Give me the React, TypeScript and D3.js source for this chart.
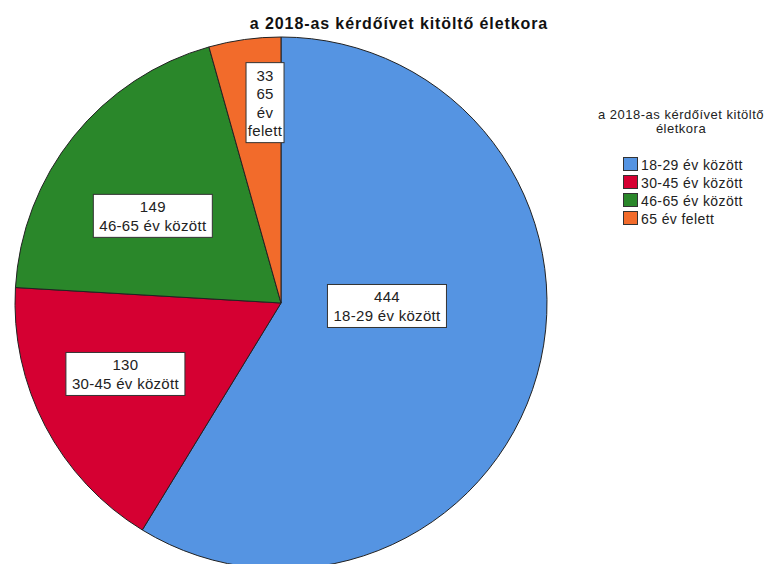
import React from "react";
import * as d3 from "d3";

const categories = ["18-29 év között", "30-45 év között", "46-65 év között", "65 év felett"];
const counts = [444, 130, 149, 33];
const colors = ["#5594e2", "#d50032", "#2a872a", "#f26b2b"];
const labelLines = [
  ["444", "18-29 év között"],
  ["130", "30-45 év között"],
  ["149", "46-65 év között"],
  ["33", "65", "év", "felett"],
];
const title = "a 2018-as kérdőívet kitöltő életkora";
const legendTitle = ["a 2018-as kérdőívet kitöltő", "életkora"];

const W = 771;
const H = 564;
const cx = 281;
const cy = 303;
const R = 266;
const font = "Arial, 'Liberation Sans', sans-serif";

export default function App() {
  const pie = d3.pie<number>().sort(null).value((d) => d);
  const arcs = pie(counts);
  const arc = d3.arc<d3.PieArcDatum<number>>().innerRadius(0).outerRadius(R);
  // label placement tuning (radius in px, angle shift in degrees from slice middle)
  const labelR = [106, 171, 155, 201];
  const labelShift = [-14.1, 3.1, -4.6, 3.3];
  const boxW = [119, 119, 119, 38];
  const lineH = 18.5;

  return (
    <svg width={W} height={H} style={{ position: "absolute", left: 0, top: 0, background: "#fff" }}>
      <text x={399} y={29} textAnchor="middle" fontFamily={font} fontWeight="bold" fontSize={16} letterSpacing={0.9} fill="#111">
        {title}
      </text>
      <g transform={`translate(${cx},${cy})`}>
        {arcs.map((a, i) => (
          <path key={i} d={arc(a) || ""} fill={colors[i]} stroke="#222" strokeWidth={1} />
        ))}
        {arcs.map((a, i) => {
          const mid = (a.startAngle + a.endAngle) / 2 + (labelShift[i] * Math.PI) / 180;
          const x = Math.sin(mid) * labelR[i];
          const y = -Math.cos(mid) * labelR[i];
          const lines = labelLines[i];
          const bw = boxW[i];
          const bh = lines.length * lineH + 6;
          return (
            <g key={"l" + i} transform={`translate(${x},${y})`}>
              <rect x={-bw / 2} y={-bh / 2} width={bw} height={bh} fill="#fff" stroke="#333" strokeWidth={1} />
              {lines.map((l, j) => (
                <text
                  key={j}
                  x={0}
                  y={-bh / 2 + 3 + lineH * j + 15}
                  textAnchor="middle"
                  fontFamily={font}
                  fontSize={15}
                  letterSpacing={0.3}
                  fill="#222"
                >
                  {l}
                </text>
              ))}
            </g>
          );
        })}
      </g>
      <g fontFamily={font} fill="#222">
        {legendTitle.map((t, j) => (
          <text key={j} x={681} y={119 + j * 14} textAnchor="middle" fontSize={13} letterSpacing={0.5}>
            {t}
          </text>
        ))}
        {categories.map((c, i) => (
          <g key={c} transform={`translate(623,${157 + i * 18})`}>
            <rect x={0.5} y={0.5} width={14} height={13} fill={colors[i]} stroke="#333" strokeWidth={1} />
            <text x={18} y={12.5} fontSize={14} letterSpacing={0.4}>
              {c}
            </text>
          </g>
        ))}
      </g>
    </svg>
  );
}
